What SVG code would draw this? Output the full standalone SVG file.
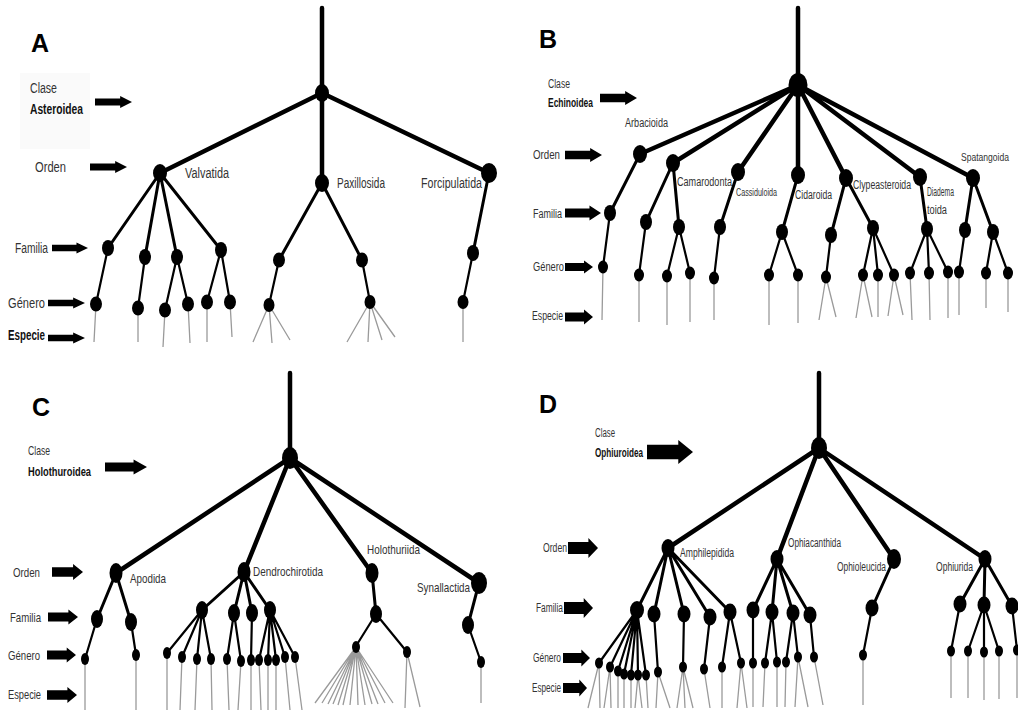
<svg xmlns="http://www.w3.org/2000/svg" xmlns:xlink="http://www.w3.org/1999/xlink" width="1018" height="712" viewBox="0 0 1018 712">
<style>
.bg{fill:#fff}
.e1{fill:none;stroke:#000;stroke-width:4.5;stroke-linecap:round}
.e2{fill:none;stroke:#000;stroke-width:3;stroke-linecap:round}
.e3{fill:none;stroke:#000;stroke-width:2.2;stroke-linecap:round}
.sp{fill:none;stroke:#9a9a9a;stroke-width:1.3}
.n ellipse{fill:#000}
.t{font-family:"Liberation Sans Narrow","Liberation Sans",Arial,sans-serif;fill:#333}
.ta{font-size:14px}
.tb{font-size:12px}
.tc{font-size:13.5px}
.ts{font-size:10px}
.bd{font-weight:bold;fill:#111}
.L{font-family:"Liberation Sans",Arial,sans-serif;font-weight:bold;font-size:25px;fill:#000}
.ar{fill:#000}
</style>
<defs>
<path id="arr" d="M0,-0.3 H0.68 V-0.5 L1,0 L0.68,0.5 V0.3 H0 Z"/>
</defs>
<rect class="bg" x="0" y="0" width="1018" height="712"/>
<rect x="20" y="73" width="70" height="76" fill="#fafafa"/>

<!-- ===== Panel labels & level labels ===== -->
<g id="labels">
<text class="L" x="31" y="52">A</text>
<text class="L" x="539" y="48">B</text>
<text class="L" x="32" y="416">C</text>
<text class="L" x="539" y="413">D</text>

<text class="t ta" x="30" y="93" textLength="27" lengthAdjust="spacingAndGlyphs">Clase</text>
<text class="t ta bd" x="30" y="114" textLength="53" lengthAdjust="spacingAndGlyphs">Asteroidea</text>
<text class="t ta" x="35" y="172" textLength="31" lengthAdjust="spacingAndGlyphs">Orden</text>
<text class="t ta" x="15" y="253" textLength="33" lengthAdjust="spacingAndGlyphs">Familia</text>
<text class="t ta" x="8" y="308" textLength="37" lengthAdjust="spacingAndGlyphs">Género</text>
<text class="t ta bd" x="8" y="340" textLength="37" lengthAdjust="spacingAndGlyphs">Especie</text>

<text class="t tb" x="548" y="88" textLength="22" lengthAdjust="spacingAndGlyphs">Clase</text>
<text class="t tb bd" x="548" y="107" textLength="45" lengthAdjust="spacingAndGlyphs">Echinoidea</text>
<text class="t tb" x="533" y="159" textLength="27" lengthAdjust="spacingAndGlyphs">Orden</text>
<text class="t tb" x="533" y="218" textLength="29" lengthAdjust="spacingAndGlyphs">Familia</text>
<text class="t tb" x="533" y="271" textLength="31" lengthAdjust="spacingAndGlyphs">Género</text>
<text class="t tb" x="532" y="320" textLength="31" lengthAdjust="spacingAndGlyphs">Especie</text>

<text class="t tc" x="28" y="455" textLength="22" lengthAdjust="spacingAndGlyphs">Clase</text>
<text class="t tc bd" x="28" y="476" textLength="63" lengthAdjust="spacingAndGlyphs">Holothuroidea</text>
<text class="t tc" x="13" y="577" textLength="27" lengthAdjust="spacingAndGlyphs">Orden</text>
<text class="t tc" x="10" y="622" textLength="31" lengthAdjust="spacingAndGlyphs">Familia</text>
<text class="t tc" x="8" y="660" textLength="32" lengthAdjust="spacingAndGlyphs">Género</text>
<text class="t tc" x="8" y="699" textLength="33" lengthAdjust="spacingAndGlyphs">Especie</text>

<text class="t tb" x="595" y="437" textLength="20" lengthAdjust="spacingAndGlyphs">Clase</text>
<text class="t tb bd" x="595" y="457" textLength="48" lengthAdjust="spacingAndGlyphs">Ophiuroidea</text>
<text class="t tb" x="543" y="552" textLength="24" lengthAdjust="spacingAndGlyphs">Orden</text>
<text class="t tb" x="536" y="612" textLength="27" lengthAdjust="spacingAndGlyphs">Familia</text>
<text class="t tb" x="533" y="662" textLength="28" lengthAdjust="spacingAndGlyphs">Género</text>
<text class="t tb" x="532" y="692" textLength="29" lengthAdjust="spacingAndGlyphs">Especie</text>
</g>

<g id="arrows" class="ar">
<use xlink:href="#arr" href="#arr" transform="translate(95,102) scale(37,12)"/>
<use xlink:href="#arr" href="#arr" transform="translate(90,167) scale(37,12)"/>
<use xlink:href="#arr" href="#arr" transform="translate(52,248) scale(36,11)"/>
<use xlink:href="#arr" href="#arr" transform="translate(48,303) scale(37,11)"/>
<use xlink:href="#arr" href="#arr" transform="translate(48,338) scale(37,11)"/>

<use xlink:href="#arr" href="#arr" transform="translate(600,98) scale(37,14)"/>
<use xlink:href="#arr" href="#arr" transform="translate(565,155) scale(37,14)"/>
<use xlink:href="#arr" href="#arr" transform="translate(565,213) scale(36,15)"/>
<use xlink:href="#arr" href="#arr" transform="translate(565,267) scale(28,13)"/>
<use xlink:href="#arr" href="#arr" transform="translate(565,317) scale(28,15)"/>

<use xlink:href="#arr" href="#arr" transform="translate(105,467) scale(42,15)"/>
<use xlink:href="#arr" href="#arr" transform="translate(52,572) scale(31,16)"/>
<use xlink:href="#arr" href="#arr" transform="translate(48,617) scale(30,15)"/>
<use xlink:href="#arr" href="#arr" transform="translate(47,655) scale(29,15)"/>
<use xlink:href="#arr" href="#arr" transform="translate(47,695) scale(30,16)"/>

<use xlink:href="#arr" href="#arr" transform="translate(647,452) scale(46,24)"/>
<use xlink:href="#arr" href="#arr" transform="translate(568,548) scale(30,20)"/>
<use xlink:href="#arr" href="#arr" transform="translate(564,608) scale(29,20)"/>
<use xlink:href="#arr" href="#arr" transform="translate(563,658) scale(27,17)"/>
<use xlink:href="#arr" href="#arr" transform="translate(563,688) scale(24,17)"/>
</g>

<!-- ===== Connectors ===== -->
<g id="connectors">
<!-- A -->
<path class="e1" d="M322,8 V93 M322,93 L160,173 M322,93 L322,183 M322,93 L489,173"/>
<path class="e2" d="M160,173 L108,248 M160,173 L145,257 M160,173 L177,257 M160,173 L221,250 M322,183 L279,260 M322,183 L362,260 M489,173 L473,253"/>
<path class="e3" d="M108,248 L96,304 M145,257 L138,308 M177,257 L165,310 M177,257 L188,304 M221,250 L207,302 M221,250 L230,302 M279,260 L269,305 M362,260 L370,302 M473,253 L463,302"/>
<path class="sp" d="M96,304 L94,342 M138,308 L138,342 M165,310 L163,347 M188,304 L190,343 M207,302 L207,342 M230,302 L232,337 M269,305 L253,342 M269,305 L272,343 M269,305 L290,340 M370,302 L347,342 M370,302 L368,342 M370,302 L382,340 M370,302 L395,337 M463,302 L463,342"/>
<!-- B -->
<path class="e1" d="M798,8 V85 M798,85 L640,154 M798,85 L673,163 M798,85 L738,172 M798,85 L798,175 M798,85 L846,178 M798,85 L920,177 M798,85 L973,178"/>
<path class="e2" d="M640,154 L610,213 M673,163 L646,222 M673,163 L679,227 M738,172 L720,227 M798,175 L782,232 M846,178 L831,235 M846,178 L873,228 M920,177 L927,229 M973,178 L965,230 M973,178 L993,232"/>
<path class="e3" d="M610,213 L603,267 M646,222 L639,275 M679,227 L667,276 M679,227 L690,273 M720,227 L714,278 M782,232 L769,275 M782,232 L798,275 M831,235 L826,277 M873,228 L863,275 M873,228 L878,275 M873,228 L894,275 M927,229 L910,273 M927,229 L929,273 M927,229 L948,272 M965,230 L959,272 M993,232 L986,273 M993,232 L1008,273"/>
<path class="sp" d="M603,267 L602,320 M639,275 L639,322 M667,276 L667,325 M690,273 L690,322 M714,278 L714,320 M769,275 L769,325 M798,275 L798,323 M826,277 L819,320 M826,277 L836,317 M863,275 L856,318 M863,275 L872,317 M878,275 L878,317 M894,275 L888,316 M894,275 L903,315 M910,273 L912,320 M929,273 L930,320 M948,272 L948,318 M959,272 L959,315 M986,273 L986,308 M1008,273 L1008,312"/>
<!-- C -->
<path class="e1" d="M290,373 V458 M290,458 L116,573 M290,458 L244,572 M290,458 L372,573 M290,458 L479,583"/>
<path class="e2" d="M116,573 L97,619 M116,573 L131,622 M244,572 L202,610 M244,572 L234,613 M244,572 L252,613 M244,572 L270,610 M372,573 L376,614 M479,583 L468,625"/>
<path class="e3" d="M97,619 L85,659 M131,622 L136,655 M202,610 L167,653 M202,610 L182,657 M202,610 L197,659 M202,610 L211,659 M234,613 L227,659 M234,613 L241,661 M252,613 L251,660 M270,610 L259,660 M270,610 L268,660 M270,610 L276,660 M270,610 L285,657 M270,610 L295,657 M376,614 L356,646 M376,614 L407,652 M468,625 L481,662"/>
<path class="sp" d="M85,659 L85,710 M136,655 L136,710 M167,653 L167,710 M182,657 L180,710 M197,659 L195,710 M211,659 L212,710 M227,659 L229,710 M241,661 L238,710 M251,660 L251,710 M259,660 L261,710 M268,660 L268,710 M276,660 L276,710 M285,657 L290,710 M295,657 L302,710 M356,647 L315,703 M356,647 L322,703 M356,647 L328,704 M356,647 L333,704 M356,647 L338,705 M356,647 L343,705 M356,647 L350,705 M356,647 L358,705 M356,647 L365,705 M356,647 L372,704 M356,647 L378,704 M356,647 L385,703 M356,647 L393,703 M407,652 L405,708 M407,652 L420,707 M481,662 L481,703"/>
<!-- D -->
<path class="e1" d="M819,373 V448 M819,448 L668,548 M819,448 L777,559 M819,448 L894,559 M819,448 L985,559"/>
<path class="e2" d="M668,548 L637,610 M668,548 L654,614 M668,548 L684,614 M668,548 L710,617 M668,548 L730,612 M777,559 L753,610 M777,559 L772,612 M777,559 L793,613 M777,559 L810,615 M894,559 L872,608 M985,559 L960,604 M985,559 L984,605 M985,559 L1012,606"/>
<path class="e3" d="M637,610 L599,663 M637,610 L610,667 M637,610 L618,671 M637,610 L624,674 M637,610 L631,675 M637,610 L638,675 M637,610 L646,675 M654,614 L658,672 M684,614 L683,667 M710,617 L704,669 M730,612 L722,667 M730,612 L741,663 M753,610 L753,663 M772,612 L765,663 M772,612 L777,662 M793,613 L786,662 M793,613 L798,657 M810,615 L814,657 M872,608 L863,655 M960,604 L951,651 M984,605 L968,651 M984,605 L984,652 M984,605 L999,651 M1012,606 L1017,650"/>
<path class="sp" d="M599,663 L588,708 M599,663 L600,708 M610,667 L604,708 M610,667 L611,708 M618,671 L618,708 M624,674 L624,708 M631,675 L631,708 M638,675 L635,708 M638,675 L642,708 M646,675 L648,708 M658,672 L656,708 M658,672 L670,708 M683,667 L677,708 M683,667 L685,708 M683,667 L693,708 M704,669 L710,708 M722,667 L722,708 M741,663 L737,708 M741,663 L747,708 M753,663 L753,707 M765,663 L763,707 M777,662 L777,707 M786,662 L785,707 M798,657 L795,707 M798,657 L808,707 M814,657 L823,705 M863,655 L863,705 M951,651 L951,698 M968,651 L968,698 M984,652 L984,700 M999,651 L999,699 M1017,650 L1017,698"/>
</g>

<!-- ===== Nodes: Panel A ===== -->
<g id="A-asteroidea" class="n"><ellipse cx="322" cy="93" rx="7" ry="9"/></g>
<g id="A-valvatida" class="n"><ellipse cx="160" cy="173" rx="7" ry="9"/><text class="t ta" x="185" y="178" textLength="44" lengthAdjust="spacingAndGlyphs">Valvatida</text></g>
<g id="A-paxillosida" class="n"><ellipse cx="322" cy="183" rx="7" ry="9"/><text class="t ta" x="337" y="188" textLength="48" lengthAdjust="spacingAndGlyphs">Paxillosida</text></g>
<g id="A-forcipulatida" class="n"><ellipse cx="489" cy="173" rx="8" ry="10"/><text class="t ta" x="421" y="188" textLength="61" lengthAdjust="spacingAndGlyphs">Forcipulatida</text></g>
<g id="A-f1" class="n"><ellipse cx="108" cy="248" rx="6" ry="8"/></g>
<g id="A-f2" class="n"><ellipse cx="145" cy="257" rx="6" ry="8"/></g>
<g id="A-f3" class="n"><ellipse cx="177" cy="257" rx="6" ry="8"/></g>
<g id="A-f4" class="n"><ellipse cx="221" cy="250" rx="6" ry="8"/></g>
<g id="A-f5" class="n"><ellipse cx="279" cy="260" rx="6" ry="7.5"/></g>
<g id="A-f6" class="n"><ellipse cx="362" cy="260" rx="6" ry="7.5"/></g>
<g id="A-f7" class="n"><ellipse cx="473" cy="253" rx="6" ry="8"/></g>
<g id="A-g1" class="n"><ellipse cx="96" cy="304" rx="6" ry="7.5"/></g>
<g id="A-g2" class="n"><ellipse cx="138" cy="308" rx="6" ry="7.5"/></g>
<g id="A-g3" class="n"><ellipse cx="165" cy="310" rx="6" ry="7.5"/></g>
<g id="A-g4" class="n"><ellipse cx="188" cy="304" rx="6" ry="7.5"/></g>
<g id="A-g5" class="n"><ellipse cx="207" cy="302" rx="6" ry="7.5"/></g>
<g id="A-g6" class="n"><ellipse cx="230" cy="302" rx="6" ry="7.5"/></g>
<g id="A-g7" class="n"><ellipse cx="269" cy="305" rx="5.5" ry="7"/></g>
<g id="A-g8" class="n"><ellipse cx="370" cy="302" rx="5.5" ry="7"/></g>
<g id="A-g9" class="n"><ellipse cx="463" cy="302" rx="5.5" ry="7"/></g>

<!-- ===== Nodes: Panel B ===== -->
<g id="B-echinoidea" class="n"><ellipse cx="798" cy="85" rx="9.5" ry="12"/></g>
<g id="B-arbacioida" class="n"><ellipse cx="640" cy="154" rx="7" ry="9"/><text class="t tb" x="625" y="127" textLength="43" lengthAdjust="spacingAndGlyphs">Arbacioida</text></g>
<g id="B-camarodonta" class="n"><ellipse cx="673" cy="163" rx="7" ry="9"/><text class="t tb" x="677" y="186" textLength="55" lengthAdjust="spacingAndGlyphs">Camarodonta</text></g>
<g id="B-cassiduloida" class="n"><ellipse cx="738" cy="172" rx="7" ry="9"/><text class="t ts" x="736" y="196" textLength="41" lengthAdjust="spacingAndGlyphs">Cassiduloida</text></g>
<g id="B-cidaroida" class="n"><ellipse cx="798" cy="175" rx="7" ry="9"/><text class="t tb" x="795" y="199" textLength="37" lengthAdjust="spacingAndGlyphs">Cidaroida</text></g>
<g id="B-clypeasteroida" class="n"><ellipse cx="846" cy="178" rx="7" ry="9"/><text class="t tb" x="853" y="189" textLength="58" lengthAdjust="spacingAndGlyphs">Clypeasteroida</text></g>
<g id="B-diadematoida" class="n"><ellipse cx="920" cy="177" rx="7" ry="9"/><text class="t tb" x="927" y="196" textLength="27" lengthAdjust="spacingAndGlyphs">Diadema</text><text class="t tb" x="927" y="214" textLength="20" lengthAdjust="spacingAndGlyphs">toida</text></g>
<g id="B-spatangoida" class="n"><ellipse cx="973" cy="178" rx="7" ry="9"/><text class="t ts" x="961" y="161" textLength="48" lengthAdjust="spacingAndGlyphs">Spatangoida</text></g>
<g id="B-f1" class="n"><ellipse cx="610" cy="213" rx="6" ry="8"/></g>
<g id="B-f2" class="n"><ellipse cx="646" cy="222" rx="6" ry="8"/></g>
<g id="B-f3" class="n"><ellipse cx="679" cy="227" rx="6" ry="8"/></g>
<g id="B-f4" class="n"><ellipse cx="720" cy="227" rx="6" ry="8"/></g>
<g id="B-f5" class="n"><ellipse cx="782" cy="232" rx="6" ry="8"/></g>
<g id="B-f6" class="n"><ellipse cx="831" cy="235" rx="6" ry="8"/></g>
<g id="B-f7" class="n"><ellipse cx="873" cy="228" rx="6" ry="8"/></g>
<g id="B-f8" class="n"><ellipse cx="927" cy="229" rx="6" ry="8"/></g>
<g id="B-f9" class="n"><ellipse cx="965" cy="230" rx="6" ry="8"/></g>
<g id="B-f10" class="n"><ellipse cx="993" cy="232" rx="6" ry="8"/></g>
<g id="B-g1" class="n"><ellipse cx="603" cy="267" rx="5" ry="6.5"/></g>
<g id="B-g2" class="n"><ellipse cx="639" cy="275" rx="5" ry="6.5"/></g>
<g id="B-g3" class="n"><ellipse cx="667" cy="276" rx="5" ry="6.5"/></g>
<g id="B-g4" class="n"><ellipse cx="690" cy="273" rx="5" ry="6.5"/></g>
<g id="B-g5" class="n"><ellipse cx="714" cy="278" rx="5" ry="6.5"/></g>
<g id="B-g6" class="n"><ellipse cx="769" cy="275" rx="5" ry="6.5"/></g>
<g id="B-g7" class="n"><ellipse cx="798" cy="275" rx="5" ry="6.5"/></g>
<g id="B-g8" class="n"><ellipse cx="826" cy="277" rx="5" ry="6.5"/></g>
<g id="B-g9" class="n"><ellipse cx="863" cy="275" rx="5" ry="6.5"/></g>
<g id="B-g10" class="n"><ellipse cx="878" cy="275" rx="5" ry="6.5"/></g>
<g id="B-g11" class="n"><ellipse cx="894" cy="275" rx="5" ry="6.5"/></g>
<g id="B-g12" class="n"><ellipse cx="910" cy="273" rx="5" ry="6.5"/></g>
<g id="B-g13" class="n"><ellipse cx="929" cy="273" rx="5" ry="6.5"/></g>
<g id="B-g14" class="n"><ellipse cx="948" cy="272" rx="5" ry="6.5"/></g>
<g id="B-g15" class="n"><ellipse cx="959" cy="272" rx="5" ry="6.5"/></g>
<g id="B-g16" class="n"><ellipse cx="986" cy="273" rx="5" ry="6.5"/></g>
<g id="B-g17" class="n"><ellipse cx="1008" cy="273" rx="5" ry="6.5"/></g>

<!-- ===== Nodes: Panel C ===== -->
<g id="C-holothuroidea" class="n"><ellipse cx="290" cy="458" rx="8" ry="11"/></g>
<g id="C-apodida" class="n"><ellipse cx="116" cy="573" rx="6.5" ry="10"/><text class="t tc" x="130" y="583" textLength="36" lengthAdjust="spacingAndGlyphs">Apodida</text></g>
<g id="C-dendrochirotida" class="n"><ellipse cx="244" cy="572" rx="6.5" ry="10"/><text class="t tc" x="253" y="576" textLength="70" lengthAdjust="spacingAndGlyphs">Dendrochirotida</text></g>
<g id="C-holothuriida" class="n"><ellipse cx="372" cy="573" rx="6.5" ry="10"/><text class="t tc" x="367" y="554" textLength="53" lengthAdjust="spacingAndGlyphs">Holothuriida</text></g>
<g id="C-synallactida" class="n"><ellipse cx="479" cy="583" rx="8" ry="11"/><text class="t tc" x="417" y="592" textLength="53" lengthAdjust="spacingAndGlyphs">Synallactida</text></g>
<g id="C-f1" class="n"><ellipse cx="97" cy="619" rx="6" ry="9"/></g>
<g id="C-f2" class="n"><ellipse cx="131" cy="622" rx="6" ry="9"/></g>
<g id="C-f3" class="n"><ellipse cx="202" cy="610" rx="6" ry="9"/></g>
<g id="C-f4" class="n"><ellipse cx="234" cy="613" rx="6" ry="9"/></g>
<g id="C-f5" class="n"><ellipse cx="252" cy="613" rx="6" ry="9"/></g>
<g id="C-f6" class="n"><ellipse cx="270" cy="610" rx="6" ry="9"/></g>
<g id="C-f7" class="n"><ellipse cx="376" cy="614" rx="6" ry="9"/></g>
<g id="C-f8" class="n"><ellipse cx="468" cy="625" rx="6" ry="9"/></g>
<g id="C-g1" class="n"><ellipse cx="85" cy="659" rx="4" ry="6"/></g>
<g id="C-g2" class="n"><ellipse cx="136" cy="655" rx="4" ry="6"/></g>
<g id="C-g3" class="n"><ellipse cx="167" cy="653" rx="4" ry="6"/></g>
<g id="C-g4" class="n"><ellipse cx="182" cy="657" rx="4" ry="6"/></g>
<g id="C-g5" class="n"><ellipse cx="197" cy="659" rx="4" ry="6"/></g>
<g id="C-g6" class="n"><ellipse cx="211" cy="659" rx="4" ry="6"/></g>
<g id="C-g7" class="n"><ellipse cx="227" cy="659" rx="4" ry="6"/></g>
<g id="C-g8" class="n"><ellipse cx="241" cy="661" rx="4" ry="6"/></g>
<g id="C-g9" class="n"><ellipse cx="251" cy="660" rx="4" ry="6"/></g>
<g id="C-g10" class="n"><ellipse cx="259" cy="660" rx="4" ry="6"/></g>
<g id="C-g11" class="n"><ellipse cx="268" cy="660" rx="4" ry="6"/></g>
<g id="C-g12" class="n"><ellipse cx="276" cy="660" rx="4" ry="6"/></g>
<g id="C-g13" class="n"><ellipse cx="285" cy="657" rx="4" ry="6"/></g>
<g id="C-g14" class="n"><ellipse cx="295" cy="657" rx="4" ry="6"/></g>
<g id="C-g15" class="n"><ellipse cx="356" cy="647" rx="4" ry="6"/></g>
<g id="C-g16" class="n"><ellipse cx="407" cy="652" rx="4" ry="6"/></g>
<g id="C-g17" class="n"><ellipse cx="481" cy="662" rx="4" ry="6"/></g>

<!-- ===== Nodes: Panel D ===== -->
<g id="D-ophiuroidea" class="n"><ellipse cx="819" cy="448" rx="8" ry="11"/></g>
<g id="D-amphilepidida" class="n"><ellipse cx="668" cy="548" rx="6.5" ry="9"/><text class="t tb" x="680" y="557" textLength="54" lengthAdjust="spacingAndGlyphs">Amphilepidida</text></g>
<g id="D-ophiacanthida" class="n"><ellipse cx="777" cy="559" rx="6.5" ry="9"/><text class="t tb" x="788" y="547" textLength="53" lengthAdjust="spacingAndGlyphs">Ophiacanthida</text></g>
<g id="D-ophioleucida" class="n"><ellipse cx="894" cy="559" rx="7" ry="10"/><text class="t tb" x="837" y="571" textLength="49" lengthAdjust="spacingAndGlyphs">Ophioleucida</text></g>
<g id="D-ophiurida" class="n"><ellipse cx="985" cy="559" rx="6.5" ry="9"/><text class="t tb" x="936" y="571" textLength="37" lengthAdjust="spacingAndGlyphs">Ophiurida</text></g>
<g id="D-f1" class="n"><ellipse cx="637" cy="610" rx="7" ry="9"/></g>
<g id="D-f2" class="n"><ellipse cx="654" cy="614" rx="6.5" ry="8.5"/></g>
<g id="D-f3" class="n"><ellipse cx="684" cy="614" rx="6.5" ry="8.5"/></g>
<g id="D-f4" class="n"><ellipse cx="710" cy="617" rx="6.5" ry="8.5"/></g>
<g id="D-f5" class="n"><ellipse cx="730" cy="612" rx="6.5" ry="8.5"/></g>
<g id="D-f6" class="n"><ellipse cx="753" cy="610" rx="6.5" ry="8.5"/></g>
<g id="D-f7" class="n"><ellipse cx="772" cy="612" rx="6.5" ry="8.5"/></g>
<g id="D-f8" class="n"><ellipse cx="793" cy="613" rx="6.5" ry="8.5"/></g>
<g id="D-f9" class="n"><ellipse cx="810" cy="615" rx="6.5" ry="8.5"/></g>
<g id="D-f10" class="n"><ellipse cx="872" cy="608" rx="6.5" ry="8.5"/></g>
<g id="D-f11" class="n"><ellipse cx="960" cy="604" rx="6.5" ry="8.5"/></g>
<g id="D-f12" class="n"><ellipse cx="984" cy="605" rx="6.5" ry="8.5"/></g>
<g id="D-f13" class="n"><ellipse cx="1012" cy="606" rx="6.5" ry="8.5"/></g>
<g id="D-g1" class="n"><ellipse cx="599" cy="663" rx="4" ry="5.5"/></g>
<g id="D-g2" class="n"><ellipse cx="610" cy="667" rx="4" ry="5.5"/></g>
<g id="D-g3" class="n"><ellipse cx="618" cy="671" rx="4" ry="5.5"/></g>
<g id="D-g4" class="n"><ellipse cx="624" cy="674" rx="4" ry="5.5"/></g>
<g id="D-g5" class="n"><ellipse cx="631" cy="675" rx="4" ry="5.5"/></g>
<g id="D-g6" class="n"><ellipse cx="638" cy="675" rx="4" ry="5.5"/></g>
<g id="D-g7" class="n"><ellipse cx="646" cy="675" rx="4" ry="5.5"/></g>
<g id="D-g8" class="n"><ellipse cx="658" cy="672" rx="4" ry="5.5"/></g>
<g id="D-g9" class="n"><ellipse cx="683" cy="667" rx="4" ry="5.5"/></g>
<g id="D-g10" class="n"><ellipse cx="704" cy="669" rx="4" ry="5.5"/></g>
<g id="D-g11" class="n"><ellipse cx="722" cy="667" rx="4" ry="5.5"/></g>
<g id="D-g12" class="n"><ellipse cx="741" cy="663" rx="4" ry="5.5"/></g>
<g id="D-g13" class="n"><ellipse cx="753" cy="663" rx="4" ry="5.5"/></g>
<g id="D-g14" class="n"><ellipse cx="765" cy="663" rx="4" ry="5.5"/></g>
<g id="D-g15" class="n"><ellipse cx="777" cy="662" rx="4" ry="5.5"/></g>
<g id="D-g16" class="n"><ellipse cx="786" cy="662" rx="4" ry="5.5"/></g>
<g id="D-g17" class="n"><ellipse cx="798" cy="657" rx="4" ry="5.5"/></g>
<g id="D-g18" class="n"><ellipse cx="814" cy="657" rx="4" ry="5.5"/></g>
<g id="D-g19" class="n"><ellipse cx="863" cy="655" rx="4" ry="5.5"/></g>
<g id="D-g20" class="n"><ellipse cx="951" cy="651" rx="4" ry="5.5"/></g>
<g id="D-g21" class="n"><ellipse cx="968" cy="651" rx="4" ry="5.5"/></g>
<g id="D-g22" class="n"><ellipse cx="984" cy="652" rx="4" ry="5.5"/></g>
<g id="D-g23" class="n"><ellipse cx="999" cy="651" rx="4" ry="5.5"/></g>
<g id="D-g24" class="n"><ellipse cx="1017" cy="650" rx="4" ry="5.5"/></g>
</svg>
